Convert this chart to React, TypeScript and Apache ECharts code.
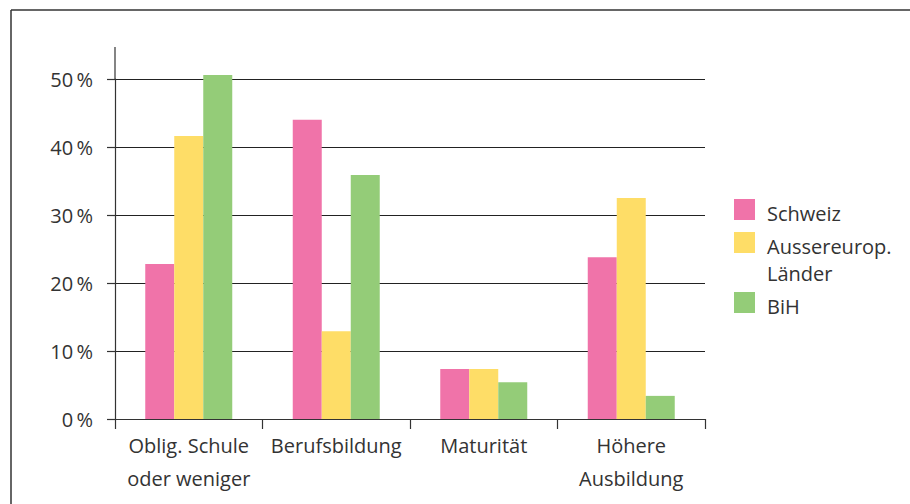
import React, { useEffect, useRef } from "react";
import * as echarts from "echarts";

const categories = ["Oblig. Schule\noder weniger", "Berufsbildung", "Maturität", "Höhere\nAusbildung"];
const seriesNames = ["Schweiz", "Aussereurop. Länder", "BiH"];
const legendLabels = ["Schweiz", "Aussereurop.\nLänder", "BiH"];
const schweiz = [22.8, 44.0, 7.35, 23.8];
const aussereurop = [41.6, 12.9, 7.35, 32.5];
const bih = [50.6, 35.9, 5.4, 3.4];
const colors = ["#F073A9", "#FEDD67", "#94CC78"];
const yTicks = [0, 10, 20, 30, 40, 50];

const FONT = "'Open Sans', 'Noto Sans', sans-serif";
const TEXT = "#333333";

export default function App() {
  const ref = useRef<HTMLDivElement>(null);
  useEffect(() => {
    if (!ref.current) return;
    const chart = echarts.init(ref.current, undefined, { renderer: "svg" });
    const values = [schweiz, aussereurop, bih];
    const legendTops = [199, 232, 292];
    const legendGraphics: any[] = [];
    legendLabels.forEach((lab, i) => {
      legendGraphics.push({
        type: "rect",
        shape: { x: 734, y: legendTops[i], width: 21, height: 21 },
        style: { fill: colors[i] },
      });
      lab.split("\n").forEach((line, j) => {
        legendGraphics.push({
          type: "text",
          x: 767,
          y: legendTops[i] + 21 - 7 + j * 27,
          style: {
            text: line,
            font: `20px ${FONT}`,
            fill: TEXT,
            verticalAlign: "middle",
            align: "left",
          },
        });
      });
    });
    chart.setOption({
      animation: false,
      grid: { left: 115, right: 205, top: 79, bottom: 85, containLabel: false },
      xAxis: {
        type: "category",
        data: categories,
        axisLine: { show: true, lineStyle: { color: "#333", width: 1.2 } },
        axisTick: { show: true, length: 10, lineStyle: { color: "#333", width: 1.2 } },
        axisLabel: {
          color: TEXT,
          fontFamily: FONT,
          fontSize: 20,
          lineHeight: 33,
          margin: 10,
          interval: 0,
        },
      },
      yAxis: {
        type: "value",
        min: 0,
        max: 50,
        interval: 10,
        axisLine: { show: true, lineStyle: { color: "#333", width: 1.2 } },
        axisTick: { show: true, length: 8, lineStyle: { color: "#333", width: 1.2 } },
        splitLine: { show: true, lineStyle: { color: "#222", width: 1.2 } },
        axisLabel: {
          color: TEXT,
          fontFamily: FONT,
          fontSize: 20,
          margin: 22,
          formatter: (v: number) => (yTicks.includes(v) ? `${v}\u2009%` : ""),
        },
      },
      series: seriesNames.map((name, i) => ({
        name,
        type: "bar",
        data: values[i],
        barWidth: 29,
        barGap: "0%",
        clip: false,
        itemStyle: { color: colors[i] },
      })),
      graphic: [
        {
          type: "line",
          shape: { x1: 11, y1: 10, x2: 910, y2: 10 },
          style: { stroke: "#333", lineWidth: 1.5 },
        },
        {
          type: "line",
          shape: { x1: 11, y1: 10, x2: 11, y2: 504 },
          style: { stroke: "#333", lineWidth: 1.5 },
        },
        {
          type: "line",
          shape: { x1: 115, y1: 47, x2: 115, y2: 79 },
          style: { stroke: "#333", lineWidth: 1.2 },
        },
        ...legendGraphics,
      ],
    });
    return () => chart.dispose();
  }, []);
  return (
    <div
      ref={ref}
      style={{ position: "fixed", left: 0, top: 0, width: 910, height: 504, background: "#fff" }}
    />
  );
}
